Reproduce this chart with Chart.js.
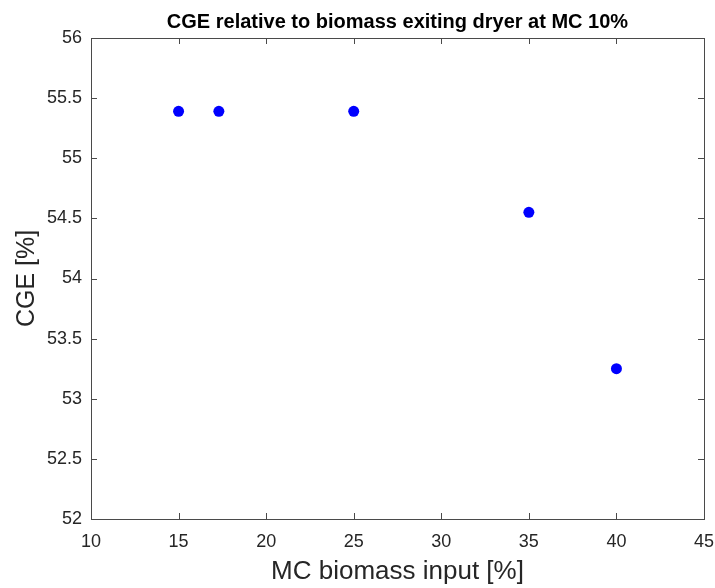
<!DOCTYPE html>
<html>
<head>
<meta charset="utf-8">
<script src="https://cdn.jsdelivr.net/npm/chart.js@4/dist/chart.umd.min.js"></script>
<style>
  html, body { margin: 0; padding: 0; background: #ffffff; }
  #wrap { width: 715px; height: 588px; }
</style>
</head>
<body>
<div id="wrap"><canvas id="cgeChart" width="715" height="588"></canvas></div>
<script>
// MC of biomass going into the dryer [%]
const mcInput = [15, 17.3, 25, 35, 40];
// cold gas efficiency [%]
const cgeValues = [55.39, 55.39, 55.39, 54.55, 53.25];

const xTicks = [10, 15, 20, 25, 30, 35, 40, 45];
const yTicks = [52, 52.5, 53, 53.5, 54, 54.5, 55, 55.5, 56];

const chartTitle = "CGE relative to biomass exiting dryer at MC 10%";
const axisColor = "#262626";

// MATLAB style box with inward ticks on all four sides, title centred over the axes
const boxPlugin = {
  id: "matlabBox",
  afterDatasetsDraw(chart) {
    const { ctx, chartArea: a, scales } = chart;
    const len = 6;
    ctx.save();
    ctx.strokeStyle = "#4a4a4a";
    ctx.lineWidth = 1;
    ctx.beginPath();
    scales.x.ticks.forEach(t => {
      const px = Math.round(scales.x.getPixelForValue(t.value)) + 0.5;
      ctx.moveTo(px, a.bottom); ctx.lineTo(px, a.bottom - len);
      ctx.moveTo(px, a.top); ctx.lineTo(px, a.top + len);
    });
    scales.y.ticks.forEach(t => {
      const py = Math.round(scales.y.getPixelForValue(t.value)) + 0.5;
      ctx.moveTo(a.left, py); ctx.lineTo(a.left + len, py);
      ctx.moveTo(a.right, py); ctx.lineTo(a.right - len, py);
    });
    ctx.stroke();
    ctx.strokeRect(Math.round(a.left) + 0.5, Math.round(a.top) + 0.5,
      Math.round(a.right - a.left), Math.round(a.bottom - a.top));

    ctx.fillStyle = "#000000";
    ctx.font = "bold 20px 'Liberation Sans'";
    ctx.textAlign = "center";
    ctx.textBaseline = "middle";
    ctx.fillText(chartTitle, (a.left + a.right) / 2, 22);
    ctx.restore();
  }
};

new Chart(document.getElementById("cgeChart").getContext("2d"), {
  type: "scatter",
  data: {
    datasets: [{
      data: mcInput.map((x, i) => ({ x: x, y: cgeValues[i] })),
      backgroundColor: "#0000ff",
      borderWidth: 0,
      pointRadius: 5.5,
      pointHoverRadius: 5.5
    }]
  },
  options: {
    responsive: false,
    animation: false,
    layout: { padding: { left: 0, right: 11, top: 38, bottom: 0 } },
    plugins: {
      legend: { display: false },
      tooltip: { enabled: false },
      title: { display: false }
    },
    scales: {
      x: {
        type: "linear",
        min: 10,
        max: 45,
        afterBuildTicks: s => { s.ticks = xTicks.map(v => ({ value: v })); },
        afterFit: s => { s.height = 69; s.paddingLeft = 0; s.paddingRight = 0; },
        grid: { display: false, drawTicks: false },
        border: { display: false },
        ticks: {
          color: axisColor,
          padding: 12,
          font: { family: "Liberation Sans", size: 18 },
          callback: v => String(v)
        },
        title: {
          display: true,
          text: "MC biomass input [%]",
          color: axisColor,
          font: { family: "Liberation Sans", size: 26 },
          padding: { top: 0, bottom: 1 }
        }
      },
      y: {
        type: "linear",
        min: 52,
        max: 56,
        afterBuildTicks: s => { s.ticks = yTicks.map(v => ({ value: v })); },
        afterFit: s => { s.width = 91; s.paddingTop = 0; s.paddingBottom = 0; },
        grid: { display: false, drawTicks: false },
        border: { display: false },
        ticks: {
          color: axisColor,
          padding: 9,
          font: { family: "Liberation Sans", size: 18 },
          callback: v => String(v)
        },
        title: {
          display: true,
          text: "CGE [%]",
          color: axisColor,
          font: { family: "Liberation Sans", size: 25 },
          padding: { top: 12, bottom: 0 }
        }
      }
    }
  },
  plugins: [boxPlugin]
});
</script>
</body>
</html>
